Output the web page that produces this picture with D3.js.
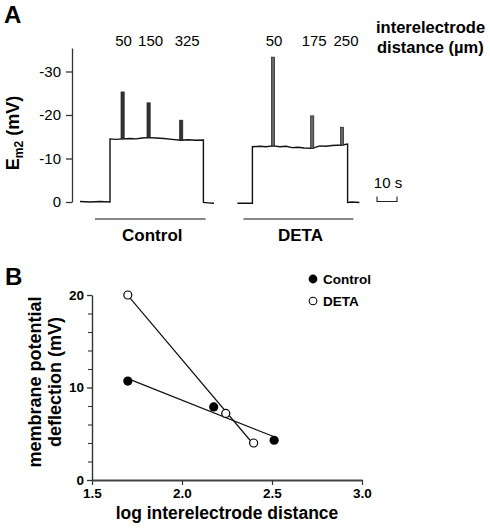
<!DOCTYPE html>
<html><head><meta charset="utf-8">
<script src="https://cdn.jsdelivr.net/npm/d3@7"></script>
<style>
html,body{margin:0;padding:0;background:#fff;}
svg text{font-family:"Liberation Sans",Arial,sans-serif;fill:#000;}
</style></head>
<body><svg id="c" width="490" height="528"></svg>
<script>
// ---------- Panel A data (time in s, Em2 in mV) ----------
const controlTrace = [[0,-0.1],[5,0],[10,-0.1],[15,0],[15,-14.5],[18,-14.4],[21.3,-14.5],[25,-14.6],[28,-14.5],[31,-14.7],[34.3,-14.8],[38,-14.7],[42,-14.6],[46,-14.4],[50.6,-14.2],[54,-14.3],[58,-14.2],[61.7,-14.25],[61.7,0.1],[64,0.2],[67,0.3]];
const detaTrace = [[78.7,0.3],[82,0.3],[86.2,0.3],[86.2,-12.7],[90,-12.8],[93,-12.7],[96.5,-12.9],[100,-12.7],[103,-12.8],[106,-12.5],[109,-12.6],[112,-12.4],[116.1,-12.35],[118,-12.6],[120,-12.9],[123,-12.8],[126,-13.0],[131,-13.1],[133.8,-13.3],[133.8,0.1],[136,0.0],[139.7,0.1]];
const controlSpikes = [{t:21.3, base:-14.5, peak:-25.3, label:"50"},{t:34.3, base:-14.8, peak:-22.8, label:"150"},{t:50.6, base:-14.2, peak:-18.8, label:"325"}];
const detaSpikes = [{t:96.5, base:-12.9, peak:-33.3, label:"50"},{t:116.1, base:-12.35, peak:-19.8, label:"175"},{t:131, base:-13.1, peak:-17.2, label:"250"}];
const conditionBars = [{name:"Control", start:7.5, end:62.8},{name:"DETA", start:81.7, end:136.7}];
const scaleBarSeconds = [148.5, 158.5];
const yTicksA = [0,-10,-20,-30];

// ---------- Panel B data ----------
const controlDistance = [50,150,325];
const controlDeflection = [10.7,7.9,4.3];
const detaDistance = [50,175,250];
const detaDeflection = [20.0,7.2,4.0];
const xTicksB = [1.5,2.0,2.5,3.0];
const yTicksB = [0,10,20];
const yMinorB = [2,4,6,8,12,14,16,18];

const svg = d3.select("#c");
const axisColor = "#333";

// ================= Panel A =================
const tA = d3.scaleLinear().domain([0,10]).range([80,100]);
const yA = d3.scaleLinear().domain([0,-35.4]).range([202,48]);

svg.append("text").attr("x",4).attr("y",23).attr("font-size",24).attr("font-weight","bold").text("A");

const gA = svg.append("g").attr("transform","translate(72,0)")
  .call(d3.axisLeft(yA).tickValues(yTicksA).tickSize(6).tickSizeOuter(0).tickPadding(5).tickFormat(d=>String(d)));
gA.select(".domain").attr("stroke",axisColor).attr("stroke-width",1.3);
gA.selectAll(".tick line").attr("stroke",axisColor).attr("stroke-width",1.3);
gA.selectAll(".tick text").attr("font-size",15).attr("font-family","Liberation Sans, Arial, sans-serif").attr("fill","#111");

// y title
const yt = svg.append("text").attr("transform","translate(19,133) rotate(-90)")
  .attr("text-anchor","middle").attr("font-size",18).attr("font-weight","bold");
yt.append("tspan").text("E");
yt.append("tspan").attr("font-size",12).attr("dy",4).text("m2");
yt.append("tspan").attr("dy",-4).text(" (mV)");

const lineA = d3.line().x(d=>tA(d[0])).y(d=>yA(d[1]));
[controlTrace, detaTrace].forEach(tr=>{
  svg.append("path").attr("d",lineA(tr)).attr("fill","none").attr("stroke","#111").attr("stroke-width",1.4);
});

const spikeW = 1.6; // seconds
function drawSpikes(sp, fill, dxLast){
  sp.forEach((s,i)=>{
    svg.append("rect").attr("x",tA(s.t)-tA(spikeW/2)+tA(0)).attr("width",tA(spikeW)-tA(0))
      .attr("y",yA(s.peak)).attr("height",yA(s.base)-yA(s.peak))
      .attr("fill",fill).attr("stroke","#222").attr("stroke-width",0.7);
    svg.append("text").attr("x",tA(s.t)+(i===sp.length-1?dxLast:(i===1?2:1))).attr("y",46)
      .attr("text-anchor","middle").attr("font-size",15).text(s.label);
  });
}
drawSpikes(controlSpikes,"#333",6);
drawSpikes(detaSpikes,"#666",4);

conditionBars.forEach(b=>{
  svg.append("line").attr("x1",tA(b.start)).attr("x2",tA(b.end)).attr("y1",219).attr("y2",219)
    .attr("stroke","#111").attr("stroke-width",1.1);
  svg.append("text").attr("x",(tA(b.start)+tA(b.end))/2+2).attr("y",241).attr("text-anchor","middle")
    .attr("font-size",17).attr("font-weight","bold").text(b.name);
});

// scale bar
const sbY = 201.5;
svg.append("path").attr("d",`M${tA(scaleBarSeconds[0])},${sbY-5}V${sbY}H${tA(scaleBarSeconds[1])}V${sbY-5}`)
  .attr("fill","none").attr("stroke","#222").attr("stroke-width",1.1);
svg.append("text").attr("x",(tA(scaleBarSeconds[0])+tA(scaleBarSeconds[1]))/2+1).attr("y",188)
  .attr("text-anchor","middle").attr("font-size",15).text("10 s");

// header
svg.append("text").attr("x",376).attr("y",33).attr("font-size",16.5).attr("font-weight","bold").text("interelectrode");
svg.append("text").attr("x",377).attr("y",53).attr("font-size",16.5).attr("font-weight","bold").text("distance (µm)");

// ================= Panel B =================
svg.append("text").attr("x",5).attr("y",285).attr("font-size",24).attr("font-weight","bold").text("B");

const xB = d3.scaleLinear().domain([1.5,3.0]).range([92,362]);
const yB = d3.scaleLinear().domain([0,20]).range([480,295]);

const gx = svg.append("g").attr("transform","translate(0,480)")
  .call(d3.axisBottom(xB).tickValues(xTicksB).tickSize(5).tickSizeOuter(0).tickPadding(3).tickFormat(d3.format(".1f")));
gx.select(".domain").attr("stroke","#444").attr("stroke-width",1.8);
gx.selectAll(".tick line").attr("stroke","#333").attr("stroke-width",1.2);
gx.selectAll(".tick text").attr("font-size",13.5).attr("font-weight","bold").attr("font-family","Liberation Sans, Arial, sans-serif").attr("fill","#000");

const gyMinor = svg.append("g").attr("transform","translate(92,0)")
  .call(d3.axisLeft(yB).tickValues(yMinorB).tickSize(4).tickFormat(""));
gyMinor.select(".domain").remove();
gyMinor.selectAll(".tick line").attr("stroke","#333").attr("stroke-width",1.1);

const gy = svg.append("g").attr("transform","translate(92,0)")
  .call(d3.axisLeft(yB).tickValues(yTicksB).tickSize(5).tickSizeOuter(0).tickPadding(3));
gy.select(".domain").attr("stroke","#333").attr("stroke-width",1.4);
gy.selectAll(".tick line").attr("stroke","#333").attr("stroke-width",1.3);
gy.selectAll(".tick text").attr("font-size",13.5).attr("font-weight","bold").attr("font-family","Liberation Sans, Arial, sans-serif").attr("fill","#000");

svg.append("text").attr("x",227).attr("y",519).attr("text-anchor","middle")
  .attr("font-size",17.5).attr("font-weight","bold").text("log interelectrode distance");
svg.append("text").attr("transform","translate(41,382) rotate(-90)").attr("text-anchor","middle")
  .attr("font-size",18).attr("font-weight","bold").text("membrane potential");
svg.append("text").attr("transform","translate(61,382) rotate(-90)").attr("text-anchor","middle")
  .attr("font-size",18).attr("font-weight","bold").text("deflection (mV)");

function regression(xs, ys){
  const mx=d3.mean(xs), my=d3.mean(ys);
  const sxy=d3.sum(xs.map((x,i)=>(x-mx)*(ys[i]-my)));
  const sxx=d3.sum(xs.map(x=>(x-mx)*(x-mx)));
  const b=sxy/sxx; return x=>my+b*(x-mx);
}
const series = [
  {name:"Control", x:controlDistance.map(Math.log10), y:controlDeflection, filled:true},
  {name:"DETA", x:detaDistance.map(Math.log10), y:detaDeflection, filled:false}
];
series.forEach(s=>{
  const f=regression(s.x,s.y);
  const x0=d3.min(s.x), x1=d3.max(s.x);
  svg.append("line").attr("x1",xB(x0)).attr("y1",yB(f(x0))).attr("x2",xB(x1)).attr("y2",yB(f(x1)))
    .attr("stroke","#111").attr("stroke-width",1.2);
});
series.forEach(s=>{
  s.x.forEach((x,i)=>{
    svg.append("circle").attr("cx",xB(x)).attr("cy",yB(s.y[i])).attr("r",s.filled?4.6:4)
      .attr("fill",s.filled?"#000":"#fff").attr("stroke","#000").attr("stroke-width",s.filled?0:1.2);
  });
});

// legend
series.forEach((s,i)=>{
  const y=279+i*22;
  svg.append("circle").attr("cx",313).attr("cy",y).attr("r",s.filled?4.4:3.8)
    .attr("fill",s.filled?"#000":"#fff").attr("stroke","#000").attr("stroke-width",s.filled?0:1.1);
  svg.append("text").attr("x",323).attr("y",y+5).attr("font-size",13.5).attr("font-weight","bold").text(s.name);
});
</script></body></html>
